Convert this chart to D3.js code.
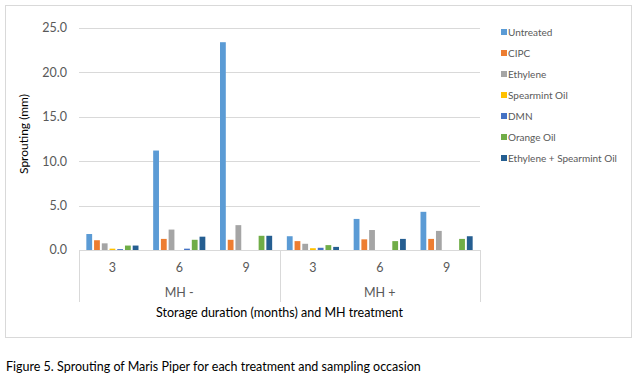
<!DOCTYPE html>
<html>
<head>
<meta charset="utf-8">
<script src="https://cdn.jsdelivr.net/npm/d3@7"></script>
<style>
  body { margin: 0; background: #fff; }
  text { font-family: Lato, "Open Sans", sans-serif; }
</style>
</head>
<body>
<div class="chart"></div>
<script>
// data
const months = ["3", "6", "9", "3", "6", "9"];
const mhGroups = ["MH -", "MH +"];
const treatments = ["Untreated", "CIPC", "Ethylene", "Spearmint Oil", "DMN", "Orange Oil", "Ethylene + Spearmint Oil"];
const untreated = [1.8, 11.2, 23.4, 1.55, 3.5, 4.3];
const cipc = [1.1, 1.25, 1.15, 1.0, 1.2, 1.25];
const ethylene = [0.75, 2.3, 2.8, 0.7, 2.25, 2.15];
const spearmint = [0.15, 0, 0, 0.2, 0, 0];
const dmn = [0.1, 0.15, 0, 0.25, 0, 0];
const orangeOil = [0.5, 1.15, 1.6, 0.55, 1.0, 1.25];
const ethSpearmint = [0.5, 1.5, 1.6, 0.35, 1.25, 1.55];
const yTicks = [0, 5, 10, 15, 20, 25];

const colors = ["#5B9BD5", "#ED7D31", "#A5A5A5", "#FFC000", "#4472C4", "#70AD47", "#255E91"];
const seriesValues = [untreated, cipc, ethylene, spearmint, dmn, orangeOil, ethSpearmint];

const width = 640, height = 390;
const plotLeft = 79, plotRight = 480, plotTop = 28, plotBottom = 250;

const svg = d3.select(".chart").append("svg")
  .attr("width", width)
  .attr("height", height);

// outer chart frame
svg.append("rect")
  .attr("x", 5.5).attr("y", 5.5)
  .attr("width", 626).attr("height", 332)
  .attr("fill", "none")
  .attr("stroke", "#D9D9D9");

const y = d3.scaleLinear().domain([0, 25]).range([plotBottom, plotTop]);
const slots = months.map((m, i) => i);
const x0 = d3.scaleBand().domain(slots).range([plotLeft, plotRight]).padding(0);
const x1 = d3.scaleBand().domain(treatments).range([0, x0.bandwidth()])
  .paddingInner(0.25).paddingOuter(0.95);

// gridlines
svg.append("g")
  .selectAll("line")
  .data(yTicks.filter(d => d > 0))
  .join("line")
  .attr("x1", plotLeft).attr("x2", plotRight)
  .attr("y1", d => Math.round(y(d)) + 0.5)
  .attr("y2", d => Math.round(y(d)) + 0.5)
  .attr("stroke", "#D9D9D9");

// y tick labels
svg.append("g")
  .selectAll("text")
  .data(yTicks)
  .join("text")
  .attr("x", 67)
  .attr("y", d => y(d))
  .attr("dy", "0.35em")
  .attr("text-anchor", "end")
  .attr("font-size", "12.5px")
  .attr("fill", "#595959")
  .text(d => d.toFixed(1));

// y axis title
svg.append("text")
  .attr("transform", "translate(28,134) rotate(-90)")
  .attr("text-anchor", "middle")
  .attr("font-size", "12px")
  .attr("fill", "#000")
  .text("Sprouting (mm)");

// bars
const slot = svg.append("g")
  .selectAll("g")
  .data(slots)
  .join("g")
  .attr("transform", d => `translate(${x0(d)},0)`);

slot.selectAll("rect")
  .data(i => treatments.map((t, k) => ({ t: t, v: seriesValues[k][i], c: colors[k] })))
  .join("rect")
  .attr("x", d => x1(d.t))
  .attr("width", x1.bandwidth())
  .attr("y", d => y(d.v))
  .attr("height", d => plotBottom - y(d.v))
  .attr("fill", d => d.c);

// category axis (two levels)
const axis = svg.append("g").attr("stroke", "#D9D9D9");
axis.append("line")
  .attr("x1", plotLeft).attr("x2", plotRight)
  .attr("y1", plotBottom + 0.5).attr("y2", plotBottom + 0.5);
[0, 3, 6].forEach(i => {
  const xx = i < 6 ? x0(i) : plotRight;
  axis.append("line")
    .attr("x1", Math.round(xx) + 0.5).attr("x2", Math.round(xx) + 0.5)
    .attr("y1", plotBottom).attr("y2", 302);
});

svg.append("g")
  .selectAll("text")
  .data(slots)
  .join("text")
  .attr("x", d => x0(d) + x0.bandwidth() / 2)
  .attr("y", 268)
  .attr("dy", "0.35em")
  .attr("text-anchor", "middle")
  .attr("font-size", "12.5px")
  .attr("fill", "#595959")
  .text(d => months[d]);

svg.append("g")
  .selectAll("text")
  .data(mhGroups)
  .join("text")
  .attr("x", (d, i) => x0(i * 3) + x0.bandwidth() * 1.5)
  .attr("y", 293)
  .attr("dy", "0.35em")
  .attr("text-anchor", "middle")
  .attr("font-size", "12.5px")
  .attr("fill", "#595959")
  .text(d => d);

svg.append("text")
  .attr("x", (plotLeft + plotRight) / 2)
  .attr("y", 313)
  .attr("dy", "0.35em")
  .attr("text-anchor", "middle")
  .attr("font-size", "12.5px")
  .attr("fill", "#000")
  .text("Storage duration (months) and MH treatment");

// legend
const legend = svg.append("g")
  .selectAll("g")
  .data(treatments)
  .join("g")
  .attr("transform", (d, i) => `translate(501,${32 + i * 21})`);

legend.append("rect")
  .attr("x", 0).attr("y", -3)
  .attr("width", 6).attr("height", 6)
  .attr("fill", (d, i) => colors[i]);

legend.append("text")
  .attr("x", 7)
  .attr("y", 0)
  .attr("dy", "0.35em")
  .attr("font-size", "10px")
  .attr("fill", "#595959")
  .text(d => d);

// caption
svg.append("text")
  .attr("x", 6)
  .attr("y", 371)
  .attr("font-size", "12.5px")
  .attr("fill", "#000")
  .text("Figure 5. Sprouting of Maris Piper for each treatment and sampling occasion");
</script>
</body>
</html>
